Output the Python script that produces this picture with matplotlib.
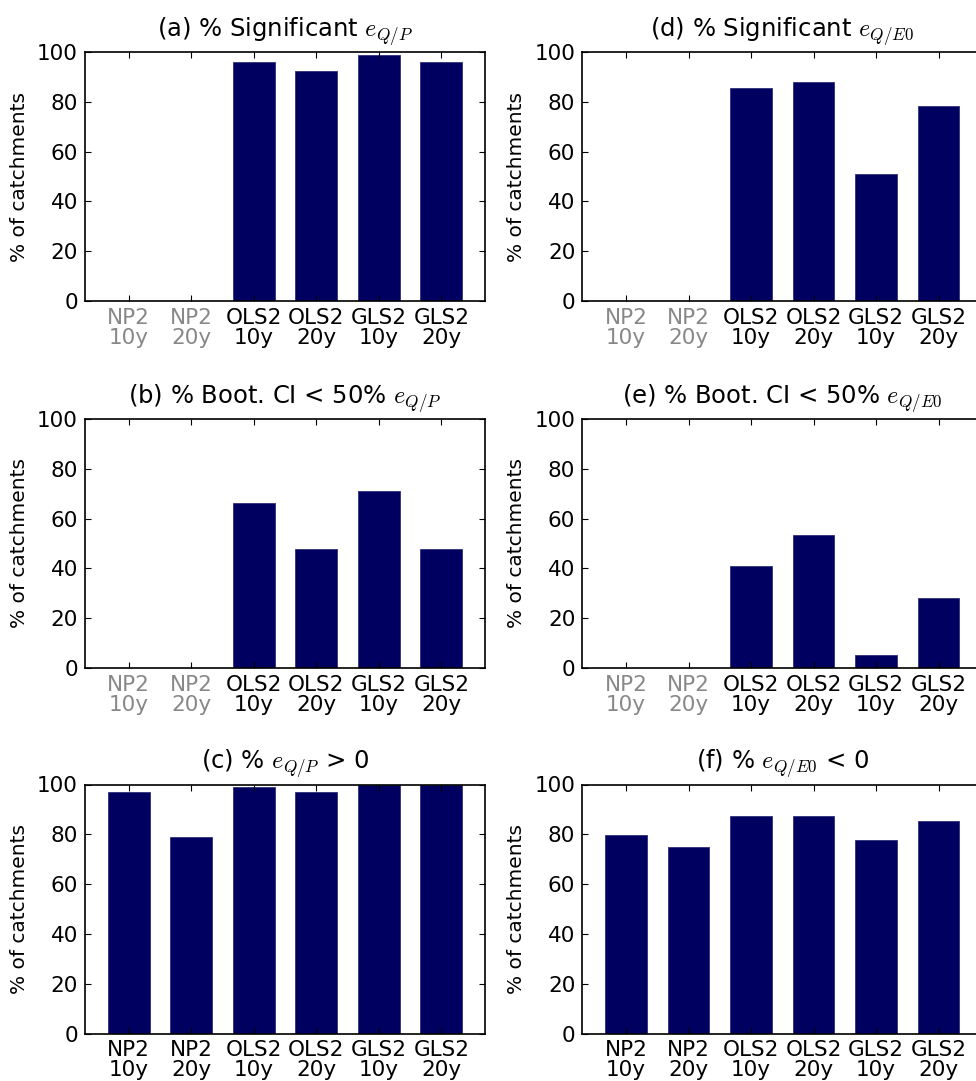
import numpy as np
import matplotlib
matplotlib.use("Agg")
from matplotlib import pyplot as plt

# categories (method + record length)
labels = ["NP2\n10y", "NP2\n20y", "OLS2\n10y", "OLS2\n20y", "GLS2\n10y", "GLS2\n20y"]

# values, % of catchments
sig_qp = [0, 0, 96.1, 92.4, 98.9, 95.9]       # (a)
boot_qp = [0, 0, 66.1, 47.8, 71.2, 47.8]      # (b)
pos_qp = [96.9, 79.1, 98.9, 97.1, 100, 100]   # (c)
sig_qe = [0, 0, 85.6, 87.9, 50.9, 78.3]       # (d)
boot_qe = [0, 0, 41.1, 53.4, 5.2, 28.1]       # (e)
neg_qe = [79.9, 74.7, 87.4, 87.4, 77.9, 85.5] # (f)

titles = [r"(a) % Significant $e_{Q/P}$",
          r"(b) % Boot. CI < 50% $e_{Q/P}$",
          r"(c) % $e_{Q/P}$ > 0",
          r"(d) % Significant $e_{Q/E0}$",
          r"(e) % Boot. CI < 50% $e_{Q/E0}$",
          r"(f) % $e_{Q/E0}$ < 0"]
panels = [sig_qp, boot_qp, pos_qp, sig_qe, boot_qe, neg_qe]
grey_np = [True, True, False, True, True, False]

plt.rcParams["mathtext.fontset"] = "cm"
plt.rcParams["font.family"] = "DejaVu Sans"
plt.rcParams["xtick.direction"] = "in"
plt.rcParams["ytick.direction"] = "in"
plt.rcParams["xtick.top"] = True
plt.rcParams["ytick.right"] = True
plt.rcParams["xtick.major.size"] = 4
plt.rcParams["ytick.major.size"] = 4

fig = plt.figure(figsize=(9.76, 10.81), dpi=100)
W, H = 976.0, 1081.0
col_x = [85, 582.3]
row_top = [52, 419, 784.5]
aw, ah = 400, 249

x = np.arange(len(labels))
for i in range(6):
    col, row = i // 3, i % 3
    left = col_x[col] / W
    bottom = 1 - (row_top[row] + ah) / H
    ax = fig.add_axes([left, bottom, aw / W, ah / H])
    ax.bar(x, panels[i], width=0.67, color="#000060", edgecolor="#30307a",
           linewidth=0.6, align="center")
    ax.set_xlim(-0.7, 5.7)
    ax.set_ylim(0, 100)
    ax.set_yticks(range(0, 101, 20))
    ax.set_xticks(x)
    ax.set_xticklabels(labels, linespacing=1.0)
    ax.tick_params(labelsize=15.5, pad=5)
    ax.set_ylabel("% of catchments", fontsize=14.5, labelpad=6)
    ax.set_title(titles[i], fontsize=17.5, pad=11)
    for sp in ax.spines.values():
        sp.set_linewidth(1.2)
    if grey_np[i]:
        for t in ax.get_xticklabels()[:2]:
            t.set_color("#888888")

fig.savefig("out.png", dpi=100, facecolor="white")
